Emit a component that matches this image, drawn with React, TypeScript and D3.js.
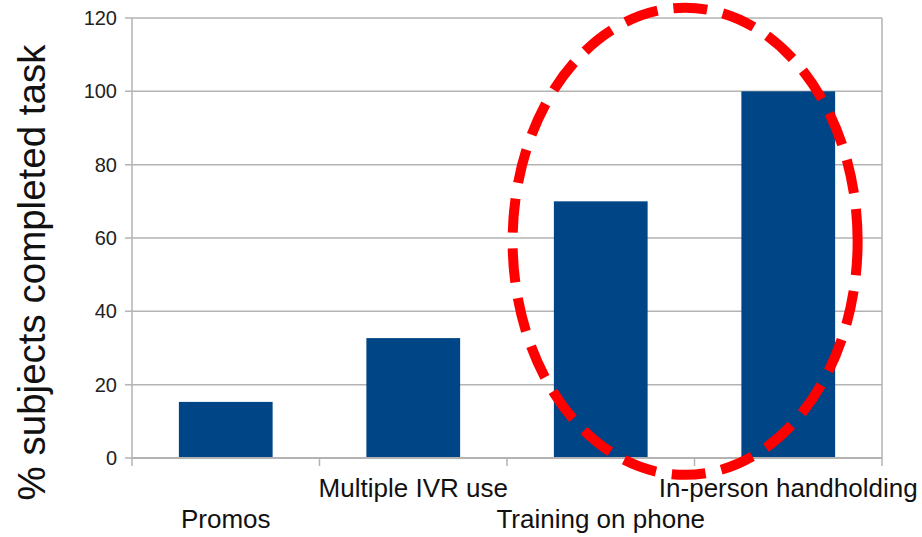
import React from "react";
import * as d3 from "d3";

const categories = ["Promos", "Multiple IVR use", "Training on phone", "In-person handholding"];
const completedPct = [15.3, 32.7, 70, 100];
const yTicks = [0, 20, 40, 60, 80, 100, 120];

// highlight ring around the last two categories (category-slot units / value units)
const ringSlots = [2.03, 3.87];
const ringValues = [-4.6, 122.8];

const W = 922;
const H = 537;
const plot = { left: 132, right: 882, top: 18, bottom: 458 };
const FONT = "'Liberation Sans', Arial, sans-serif";

export default function App() {
  const x = d3
    .scaleBand<string>()
    .domain(categories)
    .range([plot.left, plot.right])
    .paddingInner(0.5)
    .paddingOuter(0.25);
  const slot = d3.scaleLinear().domain([0, categories.length]).range([plot.left, plot.right]);
  const y = d3.scaleLinear().domain([0, 120]).range([plot.bottom, plot.top]);

  const ringL = slot(ringSlots[0]);
  const ringR = slot(ringSlots[1]);
  const ringT = y(ringValues[1]);
  const ringB = y(ringValues[0]);

  const grid = "#b3b3b3";

  return (
    <div style={{ position: "absolute", left: 0, top: 0 }}>
      <svg width={W} height={H} style={{ display: "block", background: "#fff" }}>
        {/* horizontal gridlines and y ticks */}
        {yTicks.map((t) => (
          <g key={t}>
            <line x1={plot.left - 7} x2={plot.right} y1={y(t)} y2={y(t)} stroke={grid} strokeWidth={1.5} />
            <text
              x={plot.left - 15}
              y={y(t)}
              dy="0.35em"
              textAnchor="end"
              fontFamily={FONT}
              fontSize={20}
              fill="#222"
            >
              {t}
            </text>
          </g>
        ))}
        {/* plot frame verticals */}
        <line x1={plot.left} x2={plot.left} y1={plot.top} y2={plot.bottom + 8} stroke={grid} strokeWidth={1.5} />
        <line x1={plot.right} x2={plot.right} y1={plot.top} y2={plot.bottom + 8} stroke={grid} strokeWidth={1.5} />
        {/* category boundary ticks */}
        {d3.range(1, categories.length).map((i) => (
          <line
            key={i}
            x1={slot(i)}
            x2={slot(i)}
            y1={plot.bottom}
            y2={plot.bottom + 8}
            stroke={grid}
            strokeWidth={1.5}
          />
        ))}
        {/* bars */}
        {categories.map((c, i) => (
          <rect
            key={c}
            x={x(c)}
            y={y(completedPct[i])}
            width={x.bandwidth()}
            height={y(0) - y(completedPct[i])}
            fill="#004586"
          />
        ))}
        {/* x axis baseline */}
        <line x1={plot.left} x2={plot.right} y1={plot.bottom} y2={plot.bottom} stroke={grid} strokeWidth={2} />
        {/* staggered category labels */}
        {categories.map((c, i) => (
          <text
            key={c}
            x={(x(c) as number) + x.bandwidth() / 2}
            y={i % 2 === 1 ? 497 : 528}
            textAnchor="middle"
            fontFamily={FONT}
            fontSize={26}
            fill="#111"
          >
            {c}
          </text>
        ))}
        {/* y axis title */}
        <text
          transform={`translate(45, ${(43 + 502) / 2}) rotate(-90)`}
          textAnchor="middle"
          fontFamily={FONT}
          fontSize={38.5}
          fill="#111"
        >
          % subjects completed task
        </text>
        {/* dashed highlight ring */}
        <ellipse
          cx={(ringL + ringR) / 2}
          cy={(ringT + ringB) / 2}
          rx={(ringR - ringL) / 2}
          ry={(ringB - ringT) / 2}
          fill="none"
          stroke="#ff0000"
          strokeWidth={10}
          strokeDasharray="34 16"
        />
      </svg>
    </div>
  );
}
